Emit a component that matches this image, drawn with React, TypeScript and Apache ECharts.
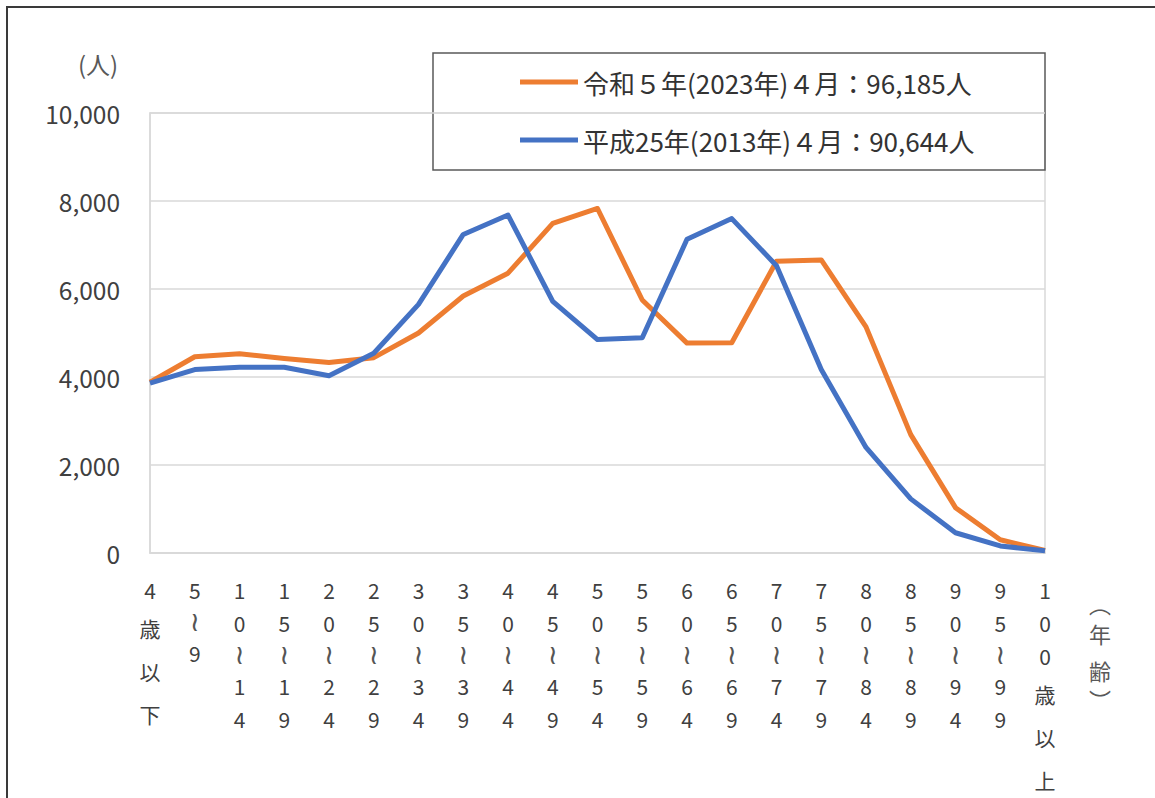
import React, { useEffect, useRef } from "react";
import * as echarts from "echarts";

// Age groups (5-year bands)
const categories = [
  "4歳以下", "5～9", "10～14", "15～19", "20～24", "25～29", "30～34",
  "35～39", "40～44", "45～49", "50～54", "55～59", "60～64", "65～69",
  "70～74", "75～79", "80～84", "85～89", "90～94", "95～99", "100歳以上",
];

// Population per age group (persons)
const pop2023 = [
  3880, 4460, 4530, 4420, 4330, 4440, 5000, 5840, 6360, 7490, 7830,
  5750, 4770, 4780, 6630, 6660, 5140, 2690, 1030, 300, 60,
];
const pop2013 = [
  3860, 4170, 4220, 4220, 4030, 4540, 5650, 7240, 7680, 5720, 4850,
  4890, 7130, 7600, 6530, 4170, 2400, 1230, 460, 160, 50,
];

const seriesNames = [
  "令和５年(2023年)４月：96,185人",
  "平成25年(2013年)４月：90,644人",
];
const seriesColors = ["#ED7D31", "#4472C4"];

const yTicks = { min: 0, max: 10000, interval: 2000 };

const FONT = "'Noto Sans CJK JP', 'Noto Sans', sans-serif";

// Stack each character of an age label vertically
function stackLabel(v: string): string {
  return v
    .split("")
    .map((ch) => {
      if (/[0-9]/.test(ch)) return `{d|${ch}}`;
      if (ch === "～") return `{w|≀}`;
      return `{k|${ch}}`;
    })
    .join("\n");
}

export default function App() {
  const ref = useRef<HTMLDivElement>(null);

  useEffect(() => {
    if (!ref.current) return;
    const chart = echarts.init(ref.current, undefined, { renderer: "svg" });
    chart.setOption({
      animation: false,
      backgroundColor: "#ffffff",
      grid: {
        left: 150,
        right: 110,
        top: 113,
        bottom: 245,
        show: true,
        borderColor: "#d9d9d9",
        borderWidth: 1.5,
      },
      legend: {
        orient: "vertical",
        left: 520,
        top: 67,
        padding: 0,
        itemWidth: 58,
        itemHeight: 5,
        itemGap: 28,
        icon: "rect",
        data: seriesNames,
        textStyle: {
          fontFamily: FONT,
          fontSize: 26,
          lineHeight: 30,
          color: "#333333",
        },
      },
      xAxis: {
        type: "category",
        data: categories,
        boundaryGap: false,
        axisTick: { show: false },
        axisLine: { lineStyle: { color: "#d9d9d9", width: 1.5 } },
        axisLabel: {
          interval: 0,
          margin: 20,
          color: "#404040",
          fontFamily: FONT,
          formatter: stackLabel,
          rich: {
            d: { fontSize: 21, lineHeight: 33, fontFamily: FONT, color: "#404040" },
            k: { fontSize: 21, lineHeight: 43, fontFamily: FONT, color: "#404040" },
            w: { fontSize: 27, lineHeight: 30, fontFamily: "'DejaVu Sans', sans-serif", color: "#555555" },
          },
        },
      },
      yAxis: {
        type: "value",
        min: yTicks.min,
        max: yTicks.max,
        interval: yTicks.interval,
        axisLine: { show: true, lineStyle: { color: "#d9d9d9", width: 1.5 } },
        axisTick: { show: false },
        splitLine: { lineStyle: { color: "#d9d9d9", width: 1.5 } },
        axisLabel: {
          margin: 30,
          fontSize: 24.5,
          fontFamily: FONT,
          color: "#404040",
          formatter: (v: number) => v.toLocaleString("en-US"),
        },
      },
      series: [
        {
          name: seriesNames[0],
          type: "line",
          data: pop2023,
          showSymbol: false,
          symbol: "none",
          lineStyle: { width: 5, color: seriesColors[0], join: "round" },
          itemStyle: { color: seriesColors[0] },
          z: 2,
        },
        {
          name: seriesNames[1],
          type: "line",
          data: pop2013,
          showSymbol: false,
          symbol: "none",
          lineStyle: { width: 5, color: seriesColors[1], join: "round" },
          itemStyle: { color: seriesColors[1] },
          z: 3,
        },
      ],
      graphic: [
        {
          type: "polyline",
          shape: { points: [[7, 800], [7, 7], [1160, 7]] },
          style: { stroke: "#3a3a3a", lineWidth: 2, fill: "none" },
          silent: true,
        },
        {
          type: "rect",
          shape: { x: 433, y: 53, width: 612, height: 117 },
          style: { stroke: "#595959", lineWidth: 1.5, fill: "none" },
          silent: true,
        },
        {
          type: "text",
          x: 98,
          y: 63,
          style: {
            text: "(人)",
            fontFamily: FONT,
            fontSize: 24,
            fill: "#595959",
            align: "center",
            verticalAlign: "middle",
          },
        },
        {
          type: "text",
          x: 1100,
          y: 592,
          style: {
            text: "{p|︵}\n{k|年}\n{k|齢}\n{p|︶}",
            align: "center",
            verticalAlign: "top",
            rich: {
              p: { fontSize: 22, lineHeight: 22, fontFamily: FONT, fill: "#595959", align: "center" },
              k: { fontSize: 22, lineHeight: 37, fontFamily: FONT, fill: "#595959", align: "center" },
            },
          },
        },
      ],
    });
    return () => chart.dispose();
  }, []);

  return (
    <div
      ref={ref}
      style={{ position: "absolute", left: 0, top: 0, width: 1155, height: 798 }}
    />
  );
}
